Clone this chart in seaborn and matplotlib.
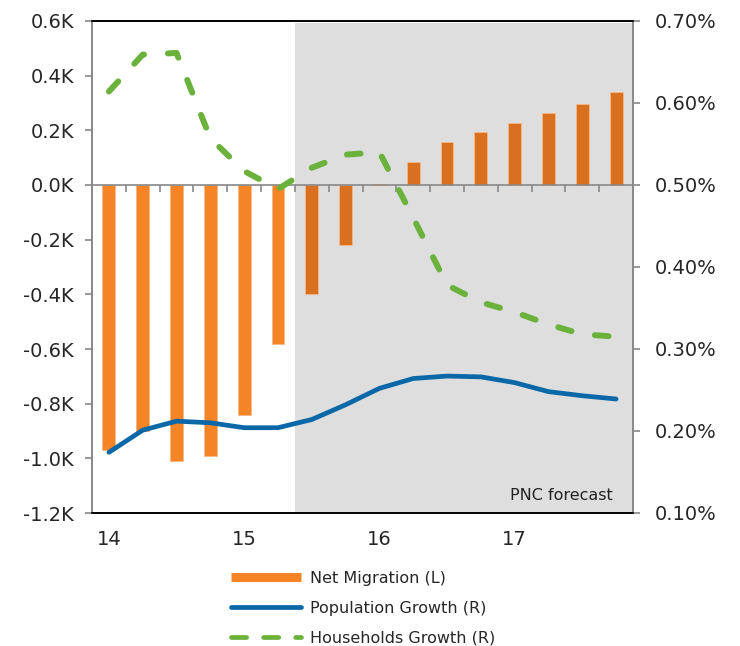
import matplotlib
import numpy as np
import pandas as pd
import seaborn as sns
from matplotlib import pyplot as plt
from matplotlib.lines import Line2D
from matplotlib.ticker import FuncFormatter, MultipleLocator

matplotlib.use("Agg")

# Quarterly data, 2014Q1 - 2017Q4 (forecast from 2015Q3)
periods = [f"{y}Q{q}" for y in (14, 15, 16, 17) for q in (1, 2, 3, 4)]
phase = ["Actual"] * 6 + ["Forecast"] * 10
net_migration = [-0.97, -0.90, -1.01, -0.99, -0.84, -0.58, -0.40, -0.22,
                 0.005, 0.084, 0.158, 0.194, 0.228, 0.264, 0.297, 0.341]
pop_growth = [0.174, 0.201, 0.212, 0.210, 0.204, 0.204, 0.214, 0.232,
              0.252, 0.264, 0.267, 0.266, 0.259, 0.248, 0.243, 0.239]
hh_growth = [0.614, 0.659, 0.661, 0.557, 0.517, 0.495, 0.521, 0.537,
             0.540, 0.460, 0.378, 0.357, 0.345, 0.330, 0.318, 0.315]
year_labels = ["14", "15", "16", "17"]

ORANGE = "#F58426"
ORANGE_DARK = "#D87020"
BLUE = "#0A67A8"
GREEN = "#6AB23C"
SHADE = "#DEDEDE"
GREY = "#888888"

sns.set_theme(style="white")
plt.rcParams["font.family"] = ["DejaVu Sans"]

df = pd.DataFrame({"period": periods, "phase": phase, "net": net_migration,
                   "pop": pop_growth, "hh": hh_growth})
df["pos"] = np.arange(len(df))

fig = plt.figure(figsize=(7.4, 6.46), dpi=100)
ax = fig.add_axes([92 / 740, 1 - 513 / 646, 541 / 740, 492 / 646])

# Forecast shading
first_fc = phase.index("Forecast")
ax.axvspan(first_fc - 0.5, len(periods) - 0.5, ymax=0.995, color=SHADE, zorder=0, lw=0)

sns.barplot(data=df, x="period", y="net", hue="phase", dodge=False, width=0.38,
            palette={"Actual": ORANGE, "Forecast": ORANGE_DARK}, saturation=1,
            edgecolor="#F7B888", linewidth=0.6, legend=False, ax=ax, zorder=2)

ax.set_xlim(-0.5, len(periods) - 0.5)
ax.set_ylim(-1.2, 0.6)
ax.yaxis.set_major_locator(MultipleLocator(0.2))
ax.yaxis.set_major_formatter(FuncFormatter(lambda v, _: f"{round(v, 1) + 0.0:.1f}K"))

# Zero line with category separators
ax.axhline(0, color=GREY, lw=1.2, zorder=3)
ax.vlines(np.arange(0.5, len(periods) - 0.5), -0.027, 0, color=GREY, lw=1.2, zorder=3)

ax.set_xticks(np.arange(0, len(periods), 4))
ax.set_xticklabels(year_labels)
ax.set_xlabel("")
ax.set_ylabel("")
ax.tick_params(axis="x", length=0, pad=12, labelsize=14)
ax.tick_params(axis="y", length=5, width=1.2, color=GREY, pad=8, labelsize=14, left=True)

ax2 = ax.twinx()
sns.lineplot(data=df, x="pos", y="pop", color=BLUE, lw=3.4, ax=ax2,
             solid_capstyle="round", zorder=4)
sns.lineplot(data=df, x="pos", y="hh", color=GREEN, lw=4.3, ax=ax2,
             dashes=False, zorder=5)
ax2.lines[-1].set_dashes((2.3, 4.0))
ax2.lines[-1].set_dash_capstyle("round")
ax2.set_ylim(0.10, 0.70)
ax2.yaxis.set_major_locator(MultipleLocator(0.1))
ax2.yaxis.set_major_formatter(FuncFormatter(lambda v, _: f"{v:.2f}%"))
ax2.set_ylabel("")
ax2.tick_params(axis="y", length=5, width=1.2, color=GREY, pad=11, labelsize=14, right=True)

for a in (ax, ax2):
    a.spines["top"].set_color("black")
    a.spines["bottom"].set_color("black")
    a.spines["left"].set_color(GREY)
    a.spines["right"].set_color(GREY)
    for s in a.spines.values():
        s.set_linewidth(1.2)

ax.text(0.963, 0.026, "PNC forecast", transform=ax.transAxes, ha="right",
        va="baseline", fontsize=11.5, color="#222222", zorder=6)

handles = [
    Line2D([], [], color=ORANGE, lw=6.5, solid_capstyle="butt"),
    Line2D([], [], color=BLUE, lw=3.4, solid_capstyle="round"),
    Line2D([], [], color=GREEN, lw=3.4, dashes=(3.2, 3.6), dash_capstyle="round"),
]
labels = ["Net Migration (L)", "Population Growth (R)", "Households Growth (R)"]
fig.legend(handles, labels, loc="upper left", bbox_to_anchor=(231 / 740, 1 - 571 / 646),
           frameon=False, fontsize=11.5, handlelength=4.4, handletextpad=0.55,
           labelspacing=0.93, borderpad=0, borderaxespad=0)

fig.savefig("out.png", dpi=100)
